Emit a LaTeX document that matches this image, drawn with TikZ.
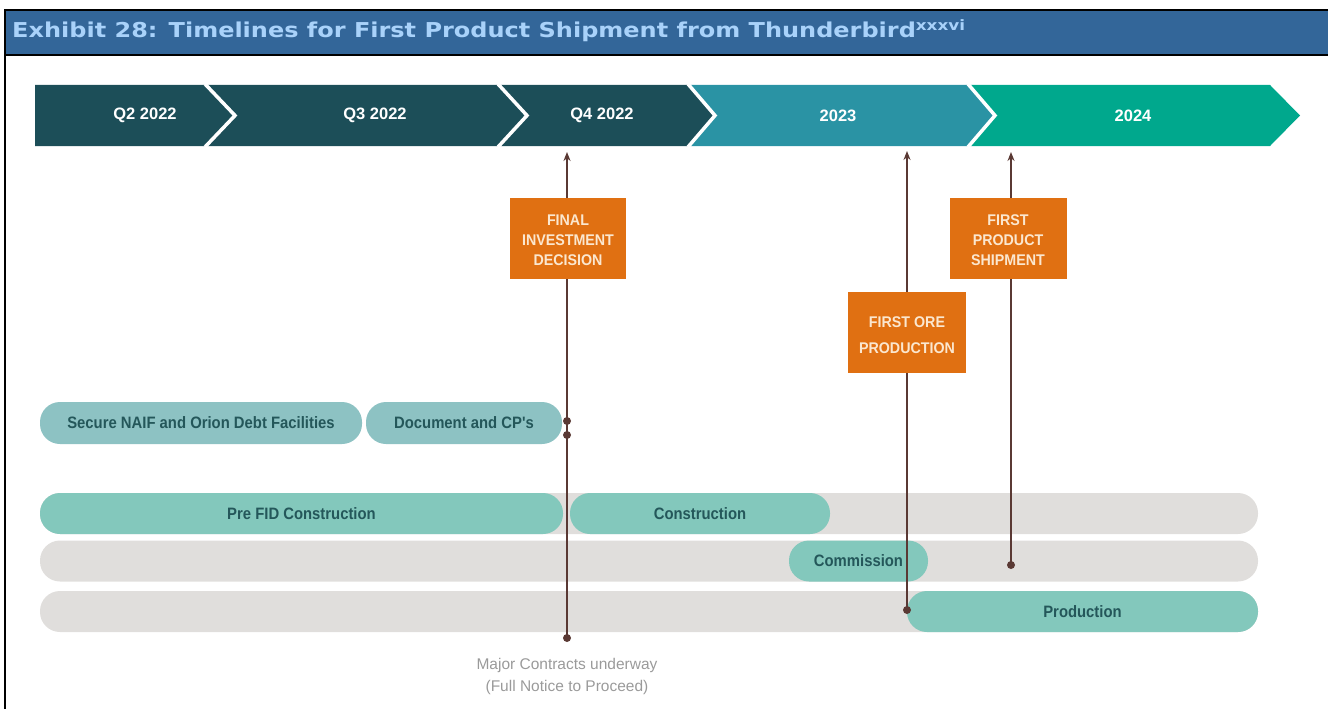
\documentclass[tikz,border=0pt]{standalone}
\usepackage{fontspec}
\setmainfont{Liberation Sans}
\newfontfamily\titlefont[FakeStretch=1.17]{DejaVu Sans}
\newfontfamily\pillfont[FakeStretch=0.9]{Liberation Sans}
\newfontfamily\boxfont[FakeStretch=0.92]{Liberation Sans}
\usetikzlibrary{arrows.meta}

\definecolor{titleblue}{HTML}{336699}
\definecolor{titletext}{HTML}{A9D2FA}
\definecolor{chevdark}{HTML}{1C4E58}
\definecolor{chevmid}{HTML}{2A93A4}
\definecolor{chevlight}{HTML}{00A88D}
\definecolor{milestone}{HTML}{E07012}
\definecolor{milestonetext}{HTML}{FBE7CF}
\definecolor{stem}{HTML}{5A3934}
\definecolor{pillgray}{HTML}{8DC2C3}
\definecolor{pillteal}{HTML}{83C8BC}
\definecolor{pilltext}{HTML}{24575A}
\definecolor{track}{HTML}{E0DEDC}
\definecolor{notetext}{HTML}{9A9A9A}

\tikzset{
  chevlabel/.style={text=white, font=\bfseries\fontsize{16.5}{16.5}\selectfont, inner sep=0},
  mbox/.style={fill=milestone, text=milestonetext, align=center, inner sep=0,
    font=\boxfont\bfseries\fontsize{15.5}{20}\selectfont},
  mtext/.style={text=milestonetext, align=center, inner sep=0,
    font=\boxfont\bfseries\fontsize{15.5}{20}\selectfont},
  trackbar/.style={fill=track, rounded corners=20pt, minimum height=41pt, inner sep=0},
  pillbox/.style={rounded corners=20pt, minimum height=41pt, inner sep=0, text=pilltext,
    font=\pillfont\bfseries\fontsize{16.5}{16.5}\selectfont},
  stemline/.style={draw=stem, line width=1.6pt, -{Stealth[length=9pt,width=7pt]}},
  stemdot/.style={fill=stem},
  sep/.style={draw=white, line width=3.5pt}
}

\begin{document}
\begin{tikzpicture}[x=1pt,y=-1pt]
\useasboundingbox (0,0) rectangle (1328,709);

% heading band
\fill[titleblue] (5,10) rectangle (1328,55);
\draw[black, line width=2pt] (1328,10) -- (5,10) -- (5,709);
\draw[black, line width=2pt] (5,55) -- (1328,55);
\node[anchor=base west, inner sep=0, text=titletext,
  font=\titlefont\bfseries\fontsize{20.5}{20.5}\selectfont] (title) at (12,38)
  {Exhibit 28: Timelines for First Product Shipment from Thunderbird\textsuperscript{xxxvi}};

% period chevrons
\fill[chevdark] (35,85) -- (205,85) -- (235,115.5) -- (205,146) -- (35,146) -- cycle;
\fill[chevdark] (205,85) -- (498,85) -- (527,115.5) -- (498,146) -- (205,146) -- (235,115.5) -- cycle;
\fill[chevdark] (498,85) -- (688,85) -- (715,115.5) -- (688,146) -- (498,146) -- (527,115.5) -- cycle;
\fill[chevmid] (688,85) -- (968,85) -- (995,115.5) -- (968,146) -- (688,146) -- (715,115.5) -- cycle;
\fill[chevlight] (968,85) -- (1270,85) -- (1300,115.5) -- (1270,146) -- (968,146) -- (995,115.5) -- cycle;
\draw[sep] (205,84) -- (235,115.5) -- (205,147);
\draw[sep] (498,84) -- (527,115.5) -- (498,147);
\draw[sep] (688,84) -- (715,115.5) -- (688,147);
\draw[sep] (968,84) -- (995,115.5) -- (968,147);

\node[chevlabel] (q2) at (145,115.5) {Q2 2022};
\node[chevlabel] (q3) at (375,115.5) {Q3 2022};
\node[chevlabel] (q4) at (602,115.5) {Q4 2022};
\node[chevlabel] (y23) at (838,115.5) {2023};
\node[chevlabel] (y24) at (1133,115.5) {2024};

% background tracks
\node[trackbar, minimum width=1218pt] (track1) at (649,513.5) {};
\node[trackbar, minimum width=1218pt] (track2) at (649,561) {};
\node[trackbar, minimum width=1218pt] (track3) at (649,611.5) {};

% activity bars
\node[pillbox, fill=pillgray, minimum width=322pt, minimum height=42pt] (naif) at (201,423) {Secure NAIF and Orion Debt Facilities};
\node[pillbox, fill=pillgray, minimum width=196pt, minimum height=42pt] (docs) at (464,423) {Document and CP's};
\node[pillbox, fill=pillteal, minimum width=523pt] (prefid) at (301.5,513.5) {Pre FID Construction};
\node[pillbox, fill=pillteal, minimum width=260pt] (constr) at (700,513.5) {Construction};
\node[pillbox, fill=pillteal, minimum width=139pt] (comm) at (858.5,561) {Commission};
\node[pillbox, fill=pillteal, minimum width=351pt] (prod) at (1082.5,611.5) {Production};

% milestone stems
\coordinate (fidtop) at (567,152);
\coordinate (fidbot) at (567,638);
\coordinate (fidd1) at (567,421);
\coordinate (fidd2) at (567,435);
\coordinate (oretop) at (907,151);
\coordinate (orebot) at (907,610);
\coordinate (shiptop) at (1011,152);
\coordinate (shipbot) at (1011,565);
\draw[stemline] (fidbot) -- (fidtop);
\draw[stemline] (orebot) -- (oretop);
\draw[stemline] (shipbot) -- (shiptop);
\fill[stemdot] (fidbot) circle (4);
\fill[stemdot] (fidd1) circle (4);
\fill[stemdot] (fidd2) circle (4);
\fill[stemdot] (orebot) circle (4);
\fill[stemdot] (shipbot) circle (4);

% milestone boxes, with their captions set a little below centre
\node[mbox, minimum width=116pt, minimum height=81pt] (fid) at (568,238) {};
\node[mtext] (fidtext) at ([yshift=-2.5pt]fid.center) {FINAL\\INVESTMENT\\DECISION};
\node[mbox, minimum width=118pt, minimum height=81pt] (ore) at (907,332.5) {};
\node[mtext] (oretext) at ([yshift=-3pt]ore.center) {FIRST ORE\\[6pt]PRODUCTION};
\node[mbox, minimum width=117pt, minimum height=81pt] (ship) at (1008,238) {};
\node[mtext] (shiptext) at ([yshift=-2.5pt]ship.center) {FIRST\\PRODUCT\\SHIPMENT};

% note under the decision stem
\node[align=center, text=notetext, inner sep=0, font=\fontsize{15.5}{22}\selectfont] (note) at (567,676)
  {Major Contracts underway\\(Full Notice to Proceed)};
\end{tikzpicture}
\end{document}
